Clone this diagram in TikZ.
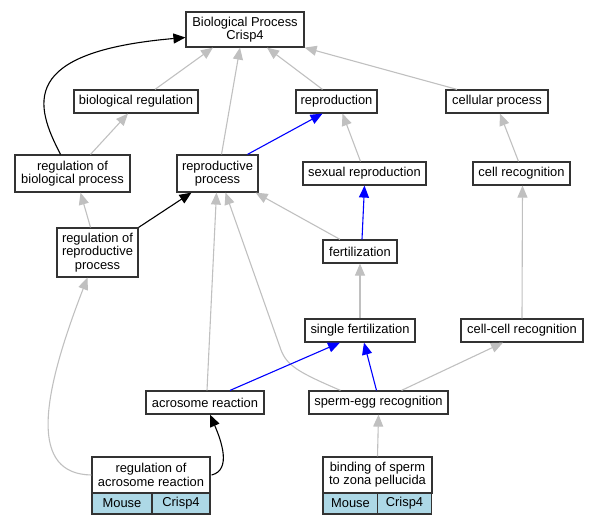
\documentclass[tikz,border=0pt]{standalone}
\usepackage{fontspec}
\setmainfont{Liberation Sans}
\usepackage{xcolor}
\usetikzlibrary{arrows.meta}

\definecolor{edgegray}{HTML}{C0C0C0}
\definecolor{cellblue}{HTML}{ADD8E6}

\begin{document}
\begin{tikzpicture}[x=1pt,y=-1pt, every node/.style={font=\fontsize{12.9}{13.3}\selectfont},
	term/.style={draw=black!80, line width=1.2pt, fill=white, inner sep=0pt, align=center, minimum height=23pt},
	cell/.style={term, fill=cellblue, minimum height=21pt},
	isa/.style={draw=edgegray, line width=1.1pt, -{Triangle[length=12pt,width=10pt]}},
	posreg/.style={isa, draw=blue},
	regul/.style={isa, draw=black}]
	
	\useasboundingbox (0,0) rectangle (597,525);
	
	\node[term, minimum width=118pt, minimum height=35pt] (bp) at (245,29.5) {Biological Process\\Crisp4};
	
	\node[term, minimum width=124pt] (bioreg) at (136,101.5) {biological regulation};
	\node[term, minimum width=81pt] (repro) at (336.5,101.5) {reproduction};
	\node[term, minimum width=102pt] (cellproc) at (497,101.5) {cellular process};
	
	\node[term, minimum width=115pt, minimum height=37pt] (regbio) at (72.5,173.5) {regulation of\\biological process};
	\node[term, minimum width=81pt, minimum height=37pt] (reprproc) at (217.5,173.5) {reproductive\\process};
	\node[term, minimum width=123pt] (sexrepro) at (364.5,173.5) {sexual reproduction};
	\node[term, minimum width=97pt] (cellrec) at (521.5,173.5) {cell recognition};
	
	\node[term, minimum width=81pt, minimum height=49pt] (regrepro) at (97.5,252.5) {regulation of\\reproductive\\process};
	\node[term, minimum width=74pt] (fert) at (360,251.5) {fertilization};
	
	\node[term, minimum width=110pt] (singfert) at (360,330.5) {single fertilization};
	\node[term, minimum width=122pt] (cellcell) at (522,330.5) {cell-cell recognition};
	
	\node[term, minimum width=118pt] (acro) at (205,402.5) {acrosome reaction};
	\node[term, minimum width=139pt] (spermegg) at (378.5,402.5) {sperm-egg recognition};
	
	\node[term, minimum width=118pt, minimum height=36pt] (regacro) at (151,475) {regulation of\\acrosome reaction};
	\node[cell, minimum width=60pt] (regacromouse) at (122,503.5) {Mouse};
	\node[cell, minimum width=58pt] (regacrocrisp) at (181,503.5) {Crisp4};
	
	\node[term, minimum width=109pt, minimum height=36pt] (binding) at (377.5,475) {binding of sperm\\to zona pellucida};
	\node[cell, minimum width=55pt] (bindingmouse) at (350.5,503.5) {Mouse};
	\node[cell, minimum width=54pt] (bindingcrisp) at (404.5,503.5) {Crisp4};
	
	
	\draw[isa] ([xshift=19pt]bioreg.north) -- ([xshift=-32pt]bp.south);
	\draw[isa] ([xshift=4pt]reprproc.north) -- ([xshift=-5pt]bp.south);
	\draw[isa] ([xshift=-14pt]repro.north) -- ([xshift=22pt]bp.south);
	\draw[isa] ([xshift=-40pt]cellproc.north) -- (bp.south east);
	\draw[regul] ([xshift=-12pt]regbio.north) .. controls (35,105) and (18,52) .. ([yshift=-8pt]bp.west);
	
	\draw[isa] ([xshift=18pt]regbio.north) -- ([xshift=-8pt]bioreg.south);
	\draw[posreg] ([xshift=30pt]reprproc.north) -- ([xshift=-14pt]repro.south);
	\draw[isa] ([xshift=-4pt]sexrepro.north) -- ([xshift=6pt]repro.south);
	\draw[isa] ([xshift=-3pt]cellrec.north) -- ([xshift=3pt]cellproc.south);
	
	\draw[isa] ([xshift=-7pt]regrepro.north) -- ([xshift=8pt]regbio.south);
	\draw[regul] (regrepro.north east) -- ([xshift=-26pt]reprproc.south);
	\draw[posreg] ([xshift=2pt]fert.north) -- (sexrepro.south);
	\draw[isa] ([xshift=-20pt]fert.north) -- ([xshift=-3pt]reprproc.south east);
	
	\draw[isa] (singfert.north) -- (fert.south);
	\draw[isa] (cellcell.north) -- ([xshift=1pt]cellrec.south);
	
	\draw[isa] ([xshift=2pt]acro.north) -- ([xshift=-1pt]reprproc.south);
	\draw[isa] ([xshift=-38pt]spermegg.north) .. controls (300,373) and (287,366) .. (281,350) -- ([xshift=8pt]reprproc.south);
	\draw[posreg] ([xshift=25pt]acro.north) -- ([xshift=-20pt]singfert.south);
	\draw[posreg] ([xshift=-2pt]spermegg.north) -- ([xshift=4pt]singfert.south);
	\draw[isa] ([xshift=23pt]spermegg.north) -- ([xshift=-19pt]cellcell.south);
	
	\draw[regul] ([xshift=1pt]regacro.east) .. controls (232,470) and (221,440) .. ([xshift=5pt]acro.south);
	\draw[isa] (regacro.west) .. controls (30,474) and (40,400) .. ([xshift=-10pt]regrepro.south);
	\draw[isa] (binding.north) -- (spermegg.south);
	
\end{tikzpicture}
\end{document}
